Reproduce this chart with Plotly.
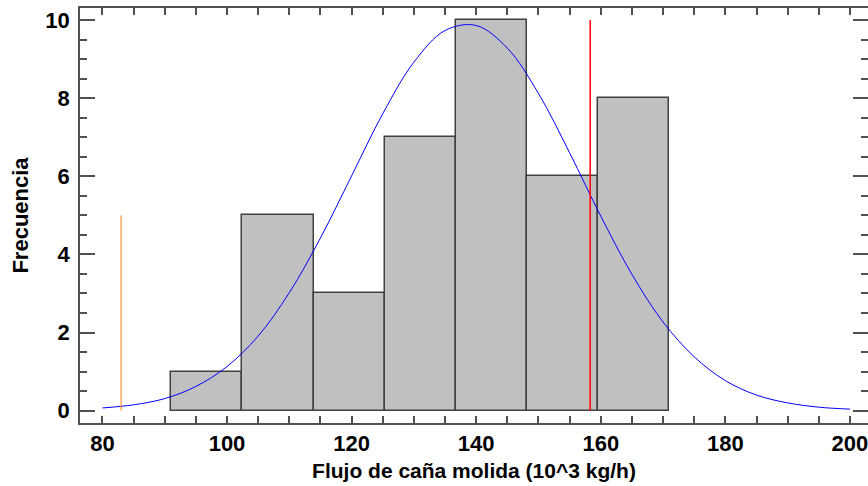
import plotly.graph_objects as go

# Histogram of milled cane flow: bin edges and counts
bin_edges = [91.0, 102.4, 113.9, 125.3, 136.7, 148.1, 159.6, 171.0]
counts = [1, 5, 3, 7, 10, 6, 8]

# Fitted normal curve (scaled to frequency), sampled every 5 units
curve_x = [80, 85, 90, 95, 100, 105, 110, 115, 120, 125, 130, 135, 140,
           145, 150, 155, 160, 165, 170, 175, 180, 185, 190, 195, 200]
curve_y = [0.07, 0.15, 0.31, 0.62, 1.13, 1.91, 3.02, 4.42, 6.01, 7.60, 8.92,
           9.73, 9.86, 9.28, 8.12, 6.60, 4.98, 3.49, 2.27, 1.38, 0.77, 0.40,
           0.20, 0.09, 0.04]

# Reference limits (x position, height)
lower_limit = (83.0, 5)
upper_limit = (158.3, 10)

y_range = [-0.315, 10.307]
y_ticks = [0, 2, 4, 6, 8, 10]

centers = [(a + b) / 2 for a, b in zip(bin_edges[:-1], bin_edges[1:])]
widths = [b - a for a, b in zip(bin_edges[:-1], bin_edges[1:])]

FONT = "Arial, Liberation Sans, sans-serif"
AXIS_COLOR = "#505050"

fig = go.Figure()
fig.add_trace(go.Bar(
    x=centers, y=counts, width=widths,
    marker=dict(color="#C0C0C0", line=dict(color="#404040", width=1.5)),
    hoverinfo="x+y",
))
fig.add_trace(go.Scatter(
    x=curve_x, y=curve_y, mode="lines", line_shape="spline",
    line=dict(color="#0000FF", width=1),
))
fig.add_trace(go.Scatter(
    x=[lower_limit[0], lower_limit[0]], y=[0, lower_limit[1]], mode="lines",
    line=dict(color="#FF8000", width=1),
))
fig.add_trace(go.Scatter(
    x=[upper_limit[0], upper_limit[0]], y=[0, upper_limit[1]], mode="lines",
    line=dict(color="#FF0000", width=1.5),
))
# Empty trace that anchors the right-hand tick axis
fig.add_trace(go.Scatter(x=[None], y=[None], yaxis="y2", mode="lines",
                         hoverinfo="skip"))

fig.update_layout(
    width=868, height=486,
    margin=dict(l=80, r=0, t=8, b=63),
    plot_bgcolor="white", paper_bgcolor="white",
    showlegend=False,
    font=dict(family=FONT, color="black"),
    bargap=0,
)
fig.update_xaxes(
    range=[76.4, 202.9],
    tickvals=[80, 100, 120, 140, 160, 180, 200],
    ticks="inside", ticklen=7, tickwidth=1.5, tickcolor=AXIS_COLOR,
    minor=dict(dtick=5, tick0=80, ticks="inside", ticklen=4, tickwidth=1.5,
               tickcolor=AXIS_COLOR),
    showline=True, linecolor=AXIS_COLOR, linewidth=1.5, mirror="allticks",
    showgrid=False, zeroline=False, ticklabeloverflow="allow",
    tickfont=dict(size=22, family=FONT, color="black", weight="bold"),
    title=dict(text="<b>Flujo de caña molida (10^3 kg/h)</b>",
               font=dict(size=21, family=FONT), standoff=8),
)
fig.update_layout(yaxis=dict(
    range=y_range,
    tickvals=y_ticks,
    ticks="inside", ticklen=15, tickwidth=1.5, tickcolor=AXIS_COLOR,
    minor=dict(dtick=0.5, tick0=0, ticks="inside", ticklen=7, tickwidth=1.5,
               tickcolor=AXIS_COLOR),
    showline=True, linecolor=AXIS_COLOR, linewidth=1.5, mirror=False,
    showgrid=False, zeroline=False, ticklabelstandoff=4,
    tickfont=dict(size=22, family=FONT, color="black", weight="bold"),
    title=dict(text="<b>Frecuencia</b>",
               font=dict(size=22, family=FONT), standoff=11),
))
# Right-hand tick marks (the frame line itself sits past the right edge)
fig.update_layout(yaxis2=dict(
    overlaying="y", side="right", range=y_range, tickvals=y_ticks,
    ticks="inside", ticklen=15, tickwidth=1.5, tickcolor=AXIS_COLOR,
    minor=dict(dtick=0.5, tick0=0, ticks="inside", ticklen=7, tickwidth=1.5,
               tickcolor=AXIS_COLOR),
    showticklabels=False, showline=False, showgrid=False, zeroline=False,
))

fig.write_html("out.html")
